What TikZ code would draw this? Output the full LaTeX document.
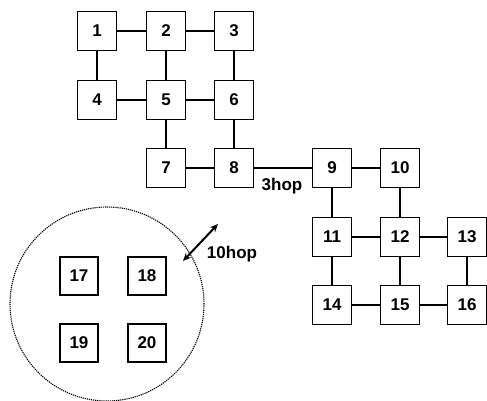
\documentclass[tikz,border=0pt]{standalone}
\usepackage{fontspec}
\setmainfont{Liberation Sans}
\usetikzlibrary{arrows.meta}
\begin{document}
\begin{tikzpicture}[x=1pt,y=-1pt,
  box/.style={draw,line width=1.2pt,minimum size=39pt,inner sep=0pt,font=\fontsize{17}{17}\selectfont\bfseries},
  sbox/.style={box,minimum size=38pt},
  link/.style={line width=1.2pt},
  lbl/.style={font=\fontsize{17}{17}\selectfont\bfseries,inner sep=0pt}]
\useasboundingbox (0,0) rectangle (487,401);
\node[box] (n1) at (97,31) {1};
\node[box] (n2) at (166,31) {2};
\node[box] (n3) at (234,31) {3};
\node[box] (n4) at (97,100) {4};
\node[box] (n5) at (166,100) {5};
\node[box] (n6) at (234,100) {6};
\node[box] (n7) at (166,168) {7};
\node[box] (n8) at (234,168) {8};
\node[box] (n9) at (332,168) {9};
\node[box] (n10) at (400,168) {10};
\node[box] (n11) at (332,237) {11};
\node[box] (n12) at (400,237) {12};
\node[box] (n13) at (467,237) {13};
\node[box] (n14) at (332,305) {14};
\node[box] (n15) at (400,305) {15};
\node[box] (n16) at (467,305) {16};
\node[sbox] (n17) at (79,276) {17};
\node[sbox] (n18) at (147,276) {18};
\node[sbox] (n19) at (79,343) {19};
\node[sbox] (n20) at (147,343) {20};
\foreach \a/\b in {n1/n2,n2/n3,n1/n4,n2/n5,n3/n6,n4/n5,n5/n6,n5/n7,n6/n8,n7/n8,n8/n9,n9/n10,n9/n11,n10/n12,n11/n12,n12/n13,n11/n14,n12/n15,n13/n16,n14/n15,n15/n16}
  \draw[link] (\a) -- (\b);
\node[draw,circle,dash pattern=on 1.2pt off 0.9pt,line width=1.1pt,minimum size=194pt,inner sep=0pt] (range) at (107,304) {};
\coordinate (a1) at (183,261);
\coordinate (a2) at (218,224);
\draw[line width=2pt,{Stealth[length=8pt,width=7pt]}-{Stealth[length=8pt,width=7pt]}] (a1) -- (a2);
\node[lbl] (h3) at (282,186) {3hop};
\node[lbl] (h10) at (232,254) {10hop};
\end{tikzpicture}
\end{document}
